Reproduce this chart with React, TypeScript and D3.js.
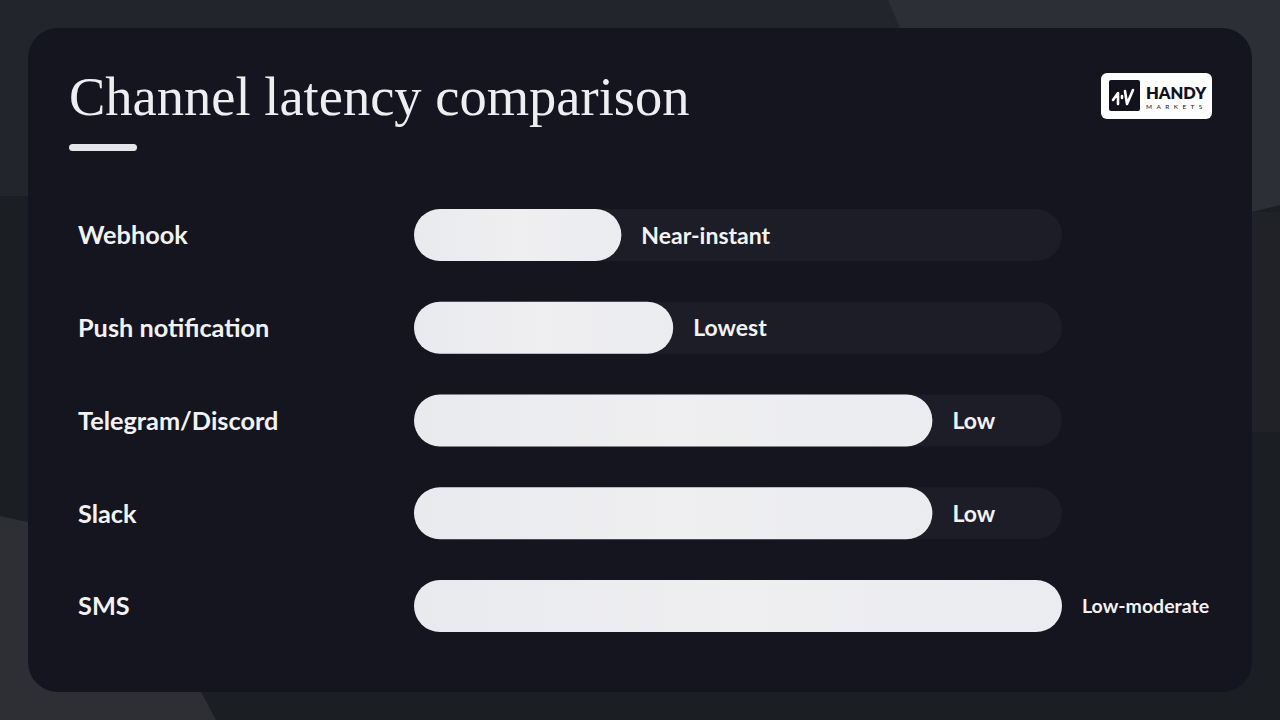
import React from 'react';
import * as d3 from 'd3';

const categories = ['Webhook', 'Push notification', 'Telegram/Discord', 'Slack', 'SMS'];
const values = [32, 40, 80, 80, 100];
const valueLabels = ['Near-instant', 'Lowest', 'Low', 'Low', 'Low-moderate'];

const W = 1280;
const H = 720;
const SANS = 'Lato, "Noto Sans", sans-serif';

export default function App() {
  const x = d3.scaleLinear().domain([0, 100]).range([414, 1062]);
  const y = d3.scalePoint<string>().domain(categories).range([235, 606]);
  const barH = 52;

  return (
    <svg width={W} height={H} style={{ position: 'absolute', left: 0, top: 0 }}>
      <defs>
        <linearGradient id="barGrad" x1="0" x2="1" y1="0" y2="0">
          <stop offset="0" stopColor="#e9eaed" />
          <stop offset="0.5" stopColor="#efeff2" />
          <stop offset="1" stopColor="#ebecef" />
        </linearGradient>
      </defs>

      {/* background */}
      <rect width={W} height={H} fill="#1b1e23" />
      <rect width={W} height={196} fill="#23252c" />
      <polygon points="888,0 1280,0 1280,205 1252,212 900,28" fill="#2d2f36" />
      <rect x={1252} y={212} width={28} height={220} fill="#202228" />
      <polygon points="0,516 110,540 200,690 216,720 0,720" fill="#2d2f35" />

      {/* card */}
      <rect x={28} y={28} width={1224} height={664} rx={30} fill="#14151f" />

      {/* title */}
      <text x={69} y={115} fill="#eeeef1" fontFamily='"Liberation Serif", "DejaVu Serif", serif' fontSize={54.5}>
        Channel latency comparison
      </text>
      <rect x={69} y={144} width={68} height={7} rx={3.5} fill="#e4e5e9" />

      {/* logo */}
      <g>
        <rect x={1101} y={73} width={111} height={46} rx={6} fill="#ffffff" />
        <rect x={1109} y={80} width={31} height={31} rx={2} fill="#12121f" />
        <path d="M1113,100 L1118,93 L1118,104 M1122,96 L1122,98 M1125,91 L1127,104 L1133,90"
          stroke="#ffffff" strokeWidth={2.6} fill="none" strokeLinecap="round" strokeLinejoin="round" />
        <text x={1146} y={99} fill="#12121f" fontFamily={SANS} fontWeight={800} fontSize={16.5}>HANDY</text>
        <text x={1146} y={109} fill="#12121f" fontFamily={SANS} fontSize={6.5} letterSpacing={4.4}>MARKETS</text>
      </g>

      {/* rows */}
      {categories.map((c, i) => {
        const cy = y(c) as number;
        const full = values[i] >= 100;
        return (
          <g key={c}>
            <text x={78} y={cy} dy="0.37em" fill="#f2f2f4" fontFamily={SANS} fontWeight={700} fontSize={25.3}>
              {c}
            </text>
            <rect x={x(0)} y={cy - barH / 2} width={x(100) - x(0)} height={barH} rx={barH / 2} fill="#1c1d26" />
            <rect x={x(0)} y={cy - barH / 2} width={x(values[i]) - x(0)} height={barH} rx={barH / 2} fill="url(#barGrad)" />
            <text x={x(values[i]) + 20} y={cy} dy="0.37em" fill="#f2f2f4" fontFamily={SANS} fontWeight={700}
              fontSize={full ? 19.5 : 23}>
              {valueLabels[i]}
            </text>
          </g>
        );
      })}
    </svg>
  );
}
